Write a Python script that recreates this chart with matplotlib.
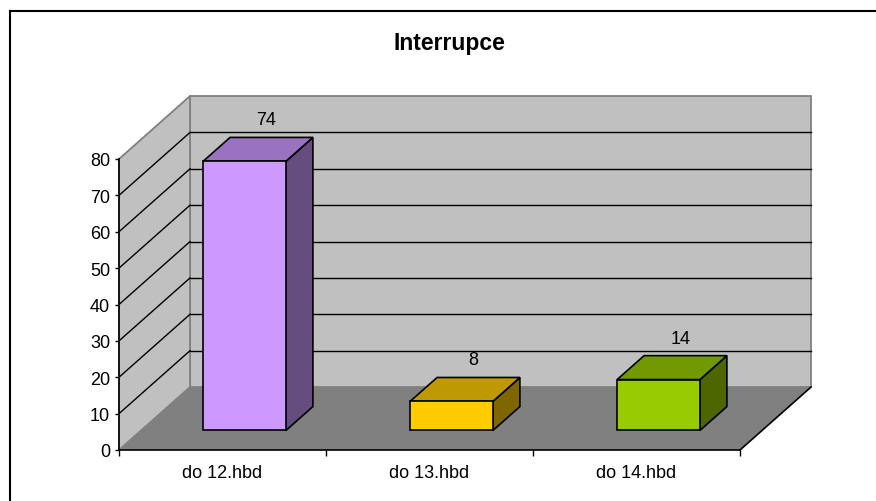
import matplotlib
matplotlib.use("Agg")
import matplotlib.pyplot as plt
from matplotlib.patches import Polygon
from matplotlib.lines import Line2D
from matplotlib.colors import to_rgb

# ---- data ----
categories = ["do 12.hbd", "do 13.hbd", "do 14.hbd"]
values = [74, 8, 14]
front_colors = ["#CC99FF", "#FFCC00", "#99CC00"]
y_ticks = [0, 10, 20, 30, 40, 50, 60, 70, 80]
title = "Interrupce"

plt.rcParams['font.family'] = ['Liberation Sans', 'DejaVu Sans']

W, H = 876, 502
fig = plt.figure(figsize=(W / 100, H / 100), dpi=100)
fig.patch.set_facecolor("white")

ax = fig.add_axes([119 / W, (H - 451) / H, 621 / W, 291 / H])
n = len(categories)
ax.set_xlim(0, n)
ax.set_ylim(y_ticks[0], y_ticks[-1])
ax.patch.set_visible(False)

# oblique depth of the plot box, expressed in data units
DX, DY = 0.343, 17.3
BAR_W = 0.40
BAR_F, BAR_B = 0.31, 0.69
ymax = y_ticks[-1]


def pt(x, y, f):
    return (x + f * DX, y + f * DY)


def shade(c, k):
    r, g, b = to_rgb(c)
    return (r * k, g * k, b * k)


WALL = "#C0C0C0"
FLOOR = "#808080"
EDGE = "#808080"

# back wall, side wall and floor
ax.add_patch(Polygon([pt(0, 0, 1), pt(n, 0, 1), pt(n, ymax, 1), pt(0, ymax, 1)],
                     closed=True, fc=WALL, ec=EDGE, lw=1.3, clip_on=False, zorder=0.5))
ax.add_patch(Polygon([pt(0, 0, 0), pt(0, 0, 1), pt(0, ymax, 1), pt(0, ymax, 0)],
                     closed=True, fc=WALL, ec=EDGE, lw=1.3, clip_on=False, zorder=0.5))
ax.add_patch(Polygon([pt(0, 0, 0), pt(n, 0, 0), pt(n, 0, 1), pt(0, 0, 1)],
                     closed=True, fc=FLOOR, ec="none", clip_on=False, zorder=0.6))
fx, fy = zip(pt(n, 0, 0), pt(n, 0, 1))
ax.add_line(Line2D(fx, fy, color="black", lw=1.2, clip_on=False, zorder=0.7))

# gridlines on the back and side walls
for v in y_ticks[1:-1]:
    bx, by = zip(pt(0, v, 1), pt(n, v, 1))
    ax.add_line(Line2D(bx, by, color="black", lw=1.0, clip_on=False, zorder=0.8))
    sx, sy = zip(pt(0, v, 0), pt(0, v, 1))
    ax.add_line(Line2D(sx, sy, color="black", lw=1.0, clip_on=False, zorder=0.8))

# 3-D bars
for i, (v, c) in enumerate(zip(values, front_colors)):
    x0 = i + 0.5 - BAR_W / 2
    x1 = i + 0.5 + BAR_W / 2
    side = [pt(x1, 0, BAR_F), pt(x1, 0, BAR_B), pt(x1, v, BAR_B), pt(x1, v, BAR_F)]
    top = [pt(x0, v, BAR_F), pt(x1, v, BAR_F), pt(x1, v, BAR_B), pt(x0, v, BAR_B)]
    front = [pt(x0, 0, BAR_F), pt(x1, 0, BAR_F), pt(x1, v, BAR_F), pt(x0, v, BAR_F)]
    for poly, col in ((side, shade(c, 0.5)), (top, shade(c, 0.75)), (front, c)):
        ax.add_patch(Polygon(poly, closed=True, fc=col, ec="black", lw=1.2,
                             joinstyle="miter", clip_on=False, zorder=3))
    ax.annotate(str(v), xy=pt(i + 0.5, v, BAR_F), xytext=(22, 37),
                textcoords="offset pixels", ha="center", va="baseline",
                fontsize=13, color="black", zorder=4, annotation_clip=False)

# axes
for s in ("top", "right"):
    ax.spines[s].set_visible(False)
for s in ("left", "bottom"):
    ax.spines[s].set_color("black")
    ax.spines[s].set_linewidth(1.2)
    ax.spines[s].set_zorder(2.5)

ax.set_yticks(y_ticks)
ax.set_yticklabels([str(t) for t in y_ticks])
ax.tick_params(axis="y", direction="out", length=3, width=1.0, pad=3.5,
               labelsize=13, colors="black")

ax.set_xticks(range(n + 1))
ax.set_xticklabels([])
ax.tick_params(axis="x", which="major", direction="out", length=4, width=1.0)
ax.set_xticks([i + 0.5 for i in range(n)], minor=True)
ax.set_xticklabels(categories, minor=True)
ax.tick_params(axis="x", which="minor", length=0, pad=10, labelsize=13,
               colors="black")

fig.text(449.5 / W, 1 - 50 / H, title, ha="center", va="baseline",
         fontsize=16.5, fontweight="bold", color="black")

# chart border (top and left edges fall inside the canvas)
fig.add_artist(Line2D([9.5 / W, 1.0], [1 - 12 / H, 1 - 12 / H],
                      transform=fig.transFigure, color="black", lw=1.5))
fig.add_artist(Line2D([9.5 / W, 9.5 / W], [0.0, 1 - 12 / H],
                      transform=fig.transFigure, color="black", lw=1.5))

fig.savefig("out.png", dpi=100)
